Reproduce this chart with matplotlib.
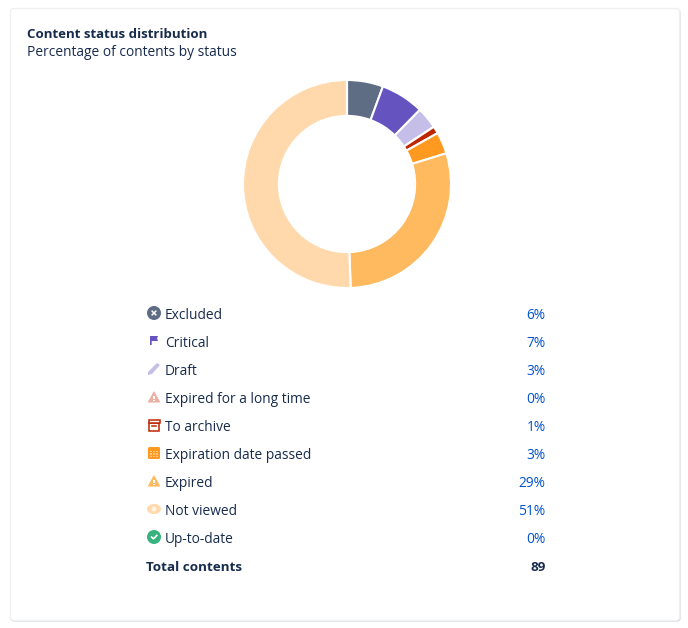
import matplotlib
matplotlib.use('Agg')
import matplotlib.pyplot as plt
from matplotlib.patches import Circle, Polygon, Rectangle, Ellipse, FancyBboxPatch

# Données
statuses = ['Excluded', 'Critical', 'Draft', 'Expired for a long time', 'To archive',
            'Expiration date passed', 'Expired', 'Not viewed', 'Up-to-date']
counts = [5, 6, 3, 0, 1, 3, 26, 45, 0]
percent_labels = ['6%', '7%', '3%', '0%', '1%', '3%', '29%', '51%', '0%']
colors = ['#5E6C84', '#6554C0', '#C5BEE8', '#EBB0A2', '#BF2600',
          '#FF991F', '#FFB95F', '#FFD8AC', '#36B37E']
total_label = 'Total contents'
total_value = '89'

W, H = 688, 628
TEXT = '#172B4D'
BLUE = '#0052CC'
FS = 9.87
plt.rcParams['font.family'] = ['Open Sans', 'DejaVu Sans']

fig = plt.figure(figsize=(W / 100, H / 100), dpi=100, facecolor='white')

# Fond en coordonnées pixels
bg = fig.add_axes([0, 0, 1, 1])
bg.set_xlim(0, W)
bg.set_ylim(H, 0)
bg.axis('off')
bg.add_patch(FancyBboxPatch((10.5, 9.5), 670, 612, boxstyle='round,pad=0,rounding_size=3',
                            fc='#C9CDD4', ec='none'))
bg.add_patch(FancyBboxPatch((10.5, 8.5), 669, 612, boxstyle='round,pad=0,rounding_size=3',
                            fc='white', ec='#EEF0F2', lw=1))

bg.text(27, 38, 'Content status distribution', fontsize=9.55, fontweight='bold', color=TEXT, va='baseline')
bg.text(27, 56, 'Percentage of contents by status', fontsize=FS, color=TEXT, va='baseline')

# Anneau
ax = fig.add_axes([243 / W, (H - 288) / H, 208 / W, 208 / H])
ax.pie(counts, colors=colors, startangle=90, counterclock=False, radius=1,
       wedgeprops=dict(width=0.345, edgecolor='white', linewidth=1.5))
ax.set_xlim(-1, 1)
ax.set_ylim(-1, 1)


def icon(i, x, y, c):
    if i == 0:
        bg.add_patch(Circle((x, y), 7, fc=c, ec='none'))
        bg.plot([x - 1.8, x + 1.8], [y - 1.8, y + 1.8], color='white', lw=1.1)
        bg.plot([x - 1.8, x + 1.8], [y + 1.8, y - 1.8], color='white', lw=1.1)
    elif i == 1:
        bg.add_patch(Polygon([(x - 4, y - 5), (x + 4, y - 5), (x + 3, y - 2.5), (x + 4, y),
                              (x - 2.3, y), (x - 2.3, y + 4), (x - 4, y + 4)], fc=c, ec='none'))
    elif i == 2:
        bg.add_patch(Polygon([(x - 6, y + 3), (x + 3, y - 6), (x + 6, y - 4), (x - 2, y + 5),
                              (x - 6, y + 6)], fc=c, ec='none'))
    elif i in (3, 6):
        bg.add_patch(Polygon([(x, y - 5), (x + 5.5, y + 5), (x - 5.5, y + 5)], fc=c, ec=c, lw=0.8, joinstyle='round'))
        bg.add_patch(Rectangle((x - 0.6, y - 1.5), 1.2, 3.5, fc='white', ec='none'))
        bg.add_patch(Rectangle((x - 0.6, y + 2.6), 1.2, 1.2, fc='white', ec='none'))
    elif i == 4:
        bg.add_patch(Rectangle((x - 5, y - 2), 10, 7.5, fc='white', ec=c, lw=1.1))
        bg.add_patch(Rectangle((x - 5.5, y - 5.5), 11, 3, fc='white', ec=c, lw=1.1))
        bg.plot([x - 2, x + 2], [y + 0.7, y + 0.7], color=c, lw=1.1)
    elif i == 5:
        bg.add_patch(FancyBboxPatch((x - 6, y - 6), 12, 12, boxstyle='round,pad=0,rounding_size=1.5', fc=c, ec='none'))
        for dx in (-3, 0, 3):
            for dy in (-1.5, 1, 3.5):
                bg.add_patch(Rectangle((x + dx - 0.7, y + dy - 0.7), 1.4, 1.4, fc='white', ec='none', alpha=0.45))
    elif i == 7:
        bg.add_patch(Ellipse((x, y), 14, 10, fc=c, ec='none'))
        bg.add_patch(Circle((x, y), 2.5, fc='#FFF3E3', ec='none'))
    elif i == 8:
        bg.add_patch(Circle((x, y), 7, fc=c, ec='none'))
        bg.plot([x - 2.5, x - 0.5, x + 2.8], [y, y + 1.8, y - 1.6], color='white', lw=1.2)


# Légende
step = 28
for i, (name, pct) in enumerate(zip(statuses, percent_labels)):
    y = 314 + i * step
    icon(i, 154, y - 1, colors[i])
    bg.text(165, y + 5, name, fontsize=FS, color=TEXT, va='baseline')
    bg.text(545.5, y + 5, pct, fontsize=FS, color=BLUE, va='baseline', ha='right')

y = 314 + 9 * step
bg.text(146, y + 5, total_label, fontsize=9.7, fontweight='bold', color=TEXT, va='baseline')
bg.text(545.5, y + 5, total_value, fontsize=9.7, fontweight='bold', color=TEXT, va='baseline', ha='right')

fig.savefig('out.png', dpi=100)
